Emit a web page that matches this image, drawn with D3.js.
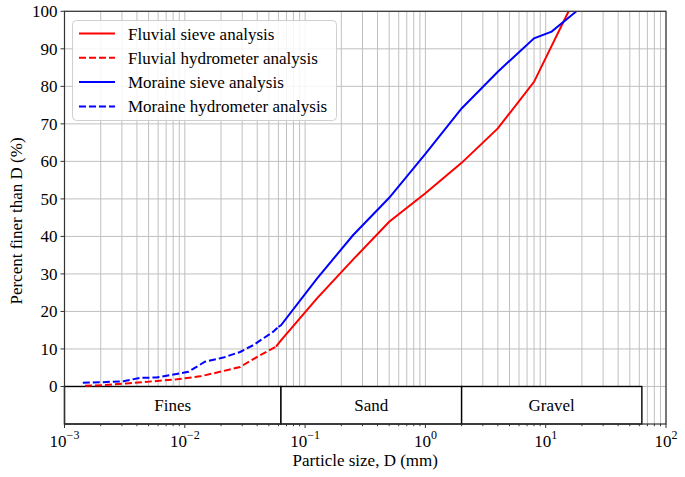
<!DOCTYPE html>
<html><head><meta charset="utf-8">
<script src="https://cdn.jsdelivr.net/npm/d3@7"></script>
<style>body{margin:0;background:#fff}svg{display:block}text{font-family:"Liberation Serif","Times New Roman",serif;fill:#000}</style>
</head><body><svg id="c" width="685" height="477"></svg>
<script>
const fluvialHydro = [[0.00148,0.2],[0.0021,0.35],[0.0033,0.8],[0.0055,1.4],[0.0086,1.9],[0.0134,2.7],[0.0196,3.9],[0.0288,5.2],[0.042,8.3],[0.0573,10.6]];
const fluvialSieve = [[0.0573,10.6],[0.063,12.3],[0.125,23.4],[0.25,33.8],[0.5,43.9],[1,51.5],[2,59.6],[4,68.8],[8,81.2],[15.5,100]];
const moraineHydro = [[0.00142,1.0],[0.0021,1.15],[0.00308,1.4],[0.00425,2.3],[0.00584,2.4],[0.0107,3.9],[0.0147,6.6],[0.0209,7.7],[0.0288,9.2],[0.037,11],[0.0544,14.6],[0.06,15.9]];
const moraineSieve = [[0.06,15.9],[0.063,16.3],[0.125,28.7],[0.25,40.3],[0.5,50.3],[1,62],[2,74.1],[4,83.9],[8,92.8],[11.2,94.6],[18,100]];
const bands = [{name:"Fines",from:0.001,to:0.063},{name:"Sand",from:0.063,to:2},{name:"Gravel",from:2,to:63}];
const yTicks = [0,10,20,30,40,50,60,70,80,90,100];
const xExps = [-3,-2,-1,0,1,2];
const legendItems = [
  {label:"Fluvial sieve analysis",color:"#ff0000",dash:null},
  {label:"Fluvial hydrometer analysis",color:"#ff0000",dash:"7,3"},
  {label:"Moraine sieve analysis",color:"#0000ff",dash:null},
  {label:"Moraine hydrometer analysis",color:"#0000ff",dash:"7,3"}];

const FS = 17;
const svg = d3.select("#c");
const L=64.5,R=666,T=11.3,B=424;
const x = d3.scaleLog().domain([1e-3,1e2]).range([L,R]);
const y = d3.scaleLinear().domain([-10,100]).range([B,T]);

// grid
const minor=[];
for(let e=-3;e<2;e++){for(let k=1;k<10;k++){minor.push(k*Math.pow(10,e));}}
minor.push(100);
const g = svg.append("g");
g.selectAll("line.vg").data(minor).join("line").attr("x1",d=>x(d)).attr("x2",d=>x(d)).attr("y1",T).attr("y2",B)
 .attr("stroke","#c0c0c0").attr("stroke-width",1);
g.selectAll("line.hg").data(yTicks).join("line").attr("x1",L).attr("x2",R).attr("y1",d=>y(d)).attr("y2",d=>y(d))
 .attr("stroke","#c0c0c0").attr("stroke-width",1);

// bands
const bg = svg.append("g");
bands.forEach(b=>{
  bg.append("rect").attr("x",x(b.from)).attr("y",y(0)).attr("width",x(b.to)-x(b.from)).attr("height",y(-10)-y(0))
    .attr("fill","#fff").attr("stroke","#000").attr("stroke-width",1.4);
  bg.append("text").attr("x",(x(b.from)+x(b.to))/2).attr("y",(y(0)+y(-10))/2+6)
    .attr("text-anchor","middle").attr("font-size",FS).text(b.name);
});

// clip
svg.append("clipPath").attr("id","cp").append("rect").attr("x",L).attr("y",T).attr("width",R-L).attr("height",B-T);
const line = d3.line().x(d=>x(d[0])).y(d=>y(d[1]));
const lg = svg.append("g").attr("clip-path","url(#cp)");
[[fluvialHydro,"#ff0000","7,3"],[fluvialSieve,"#ff0000",null],[moraineHydro,"#0000ff","7,3"],[moraineSieve,"#0000ff",null]].forEach(([d,c,da])=>{
  lg.append("path").datum(d).attr("d",line).attr("fill","none").attr("stroke",c).attr("stroke-width",2)
    .attr("stroke-dasharray",da);
});

// frame
svg.append("rect").attr("x",L).attr("y",T).attr("width",R-L).attr("height",B-T).attr("fill","none").attr("stroke","#333").attr("stroke-width",1.2);

// y axis ticks
const ya = svg.append("g");
yTicks.forEach(t=>{
  ya.append("line").attr("x1",L-4).attr("x2",L).attr("y1",y(t)).attr("y2",y(t)).attr("stroke","#333");
  ya.append("text").attr("x",L-7).attr("y",y(t)+6).attr("text-anchor","end").attr("font-size",FS).text(t);
});
// x axis ticks
const xa = svg.append("g");
minor.forEach(m=>{
  const major = Math.abs(Math.log10(m)-Math.round(Math.log10(m)))<1e-9;
  xa.append("line").attr("x1",x(m)).attr("x2",x(m)).attr("y1",B).attr("y2",B+(major?4:2.2)).attr("stroke","#333");
});
xExps.forEach(e=>{
  const t = xa.append("text").attr("x",x(Math.pow(10,e))).attr("y",B+22.5).attr("text-anchor","middle").attr("font-size",FS);
  t.append("tspan").text("10");
  t.append("tspan").attr("dy",-7.5).attr("font-size",12).text(e<0?"\u2212"+(-e):String(e));
});
svg.append("text").attr("x",(L+R)/2).attr("y",B+42).attr("text-anchor","middle").attr("font-size",FS).text("Particle size, D (mm)");
svg.append("text").attr("transform",`translate(22,221) rotate(-90)`).attr("text-anchor","middle").attr("font-size",FS).text("Percent finer than D (%)");

// legend
const leg = svg.append("g");
leg.append("rect").attr("x",72.5).attr("y",20.5).attr("width",264).attr("height",100).attr("rx",4)
  .attr("fill","#fff").attr("fill-opacity",0.85).attr("stroke","#d0d0d0");
legendItems.forEach((it,i)=>{
  const yy = 33.5 + i*24.3;
  leg.append("line").attr("x1",79).attr("x2",115).attr("y1",yy).attr("y2",yy).attr("stroke",it.color).attr("stroke-width",2).attr("stroke-dasharray",it.dash);
  leg.append("text").attr("x",128).attr("y",yy+6).attr("font-size",FS).text(it.label);
});
</script></body></html>
